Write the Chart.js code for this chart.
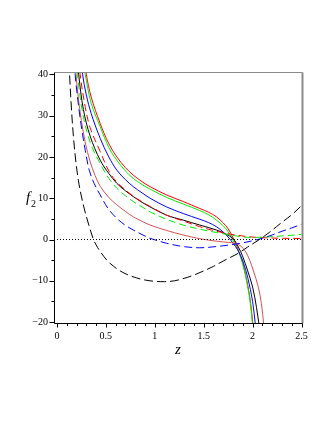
<!DOCTYPE html>
<html><head><meta charset="utf-8">
<script src="https://cdn.jsdelivr.net/npm/chart.js@4.4.0/dist/chart.umd.min.js"></script>
<style>html,body{margin:0;padding:0;background:#fff;}canvas{display:block;}</style>
</head><body>
<canvas id="c" width="332" height="430"></canvas>
<script>
// ---- data (z, f2) ----
const xTickValues = [0, 0.5, 1, 1.5, 2, 2.5];
const yTickValues = [-20, -10, 0, 10, 20, 30, 40];

const redSolid = [[0.27,45],[0.30,40],[0.35,34.5],[0.442,28.1],[0.53,23.2],[0.612,20.0],[0.70,17.4],[0.78,15.6],[0.87,14.0],[0.952,12.8],[1.12,10.8],[1.29,9.2],[1.46,7.5],[1.55,6.6],[1.63,5.5],[1.70,4.0],[1.75,2.6],[1.80,0.4],[1.85,-2.3],[1.90,-5.8],[1.95,-11.0],[1.98,-15.5],[2.005,-21]];
const greenSolid = [[0.265,45],[0.29,40],[0.35,33],[0.442,27.3],[0.53,22.3],[0.612,19.2],[0.70,16.6],[0.78,14.8],[0.87,13.3],[0.952,12.2],[1.12,10.2],[1.29,8.6],[1.46,7.0],[1.55,6.0],[1.63,4.7],[1.70,3.3],[1.75,1.9],[1.80,-0.3],[1.85,-2.6],[1.90,-6.0],[1.95,-11.5],[1.98,-16],[2.0,-21]];
const blueSolid = [[0.24,45],[0.262,40],[0.30,35],[0.35,30.5],[0.442,24.5],[0.53,20.0],[0.612,16.8],[0.70,14.5],[0.78,12.8],[0.87,11.3],[0.952,10.0],[1.12,7.9],[1.29,6.3],[1.46,4.9],[1.55,4.1],[1.63,3.1],[1.70,1.8],[1.75,0.6],[1.80,-0.9],[1.85,-2.6],[1.90,-5.2],[1.95,-9.2],[2.0,-15],[2.03,-21]];
const blackSolid = [[0.20,46],[0.222,40],[0.27,31.5],[0.34,25],[0.442,19.2],[0.53,16.0],[0.612,13.6],[0.70,11.8],[0.78,10.4],[0.87,9.0],[0.952,7.9],[1.12,5.9],[1.29,4.7],[1.46,3.5],[1.63,2.3],[1.72,1.4],[1.80,0.2],[1.85,-1.6],[1.90,-4.2],[1.95,-7.6],[2.0,-11.5],[2.04,-16.5],[2.068,-21]];
const paleRedSolid = [[0.18,45],[0.195,40],[0.22,34],[0.25,28.8],[0.29,23.4],[0.34,18.8],[0.39,15.5],[0.442,12.9],[0.53,10.2],[0.612,8.4],[0.70,6.8],[0.78,5.5],[0.87,4.4],[0.952,3.5],[1.12,2.2],[1.29,1.1],[1.46,0.2],[1.63,-0.4],[1.75,-0.7],[1.82,-0.9],[1.88,-1.6],[1.93,-3.0],[1.97,-5.0],[2.006,-7.4],[2.057,-11.4],[2.09,-15.5],[2.115,-21]];
const redDashed = [[0.215,46],[0.237,40],[0.29,32],[0.34,27],[0.442,21.3],[0.53,16.6],[0.612,13.9],[0.70,12.0],[0.78,10.5],[0.87,9.1],[0.952,8.0],[1.12,5.9],[1.29,4.5],[1.46,3.1],[1.63,2.0],[1.80,1.2],[1.95,0.7],[2.1,0.45],[2.3,0.3],[2.5,0.25]];
const greenDashed = [[0.19,46],[0.21,40],[0.26,31],[0.34,23.5],[0.442,18.4],[0.53,14.8],[0.612,12.4],[0.70,10.6],[0.78,9.2],[0.87,7.9],[0.952,6.7],[1.12,4.9],[1.29,3.5],[1.46,2.5],[1.63,1.7],[1.80,1.0],[1.90,0.6],[2.0,0.5],[2.2,0.7],[2.35,0.95],[2.5,1.25]];
const blueDashed = [[0.17,46],[0.186,40],[0.22,32.5],[0.255,26.5],[0.29,21.5],[0.33,16.8],[0.38,13.6],[0.442,10.8],[0.52,7.6],[0.6,5.4],[0.69,3.6],[0.78,2.3],[0.87,1.2],[0.952,0.3],[1.12,-0.9],[1.29,-1.7],[1.46,-2.0],[1.63,-1.7],[1.8,-1.2],[1.9,-0.8],[2.0,-0.3],[2.1,0.3],[2.2,1.1],[2.3,2.0],[2.4,2.8],[2.5,3.7]];
const blackDashed = [[0.118,46],[0.129,40],[0.15,31],[0.17,24.5],[0.195,18.5],[0.22,14.2],[0.245,11.0],[0.28,7.4],[0.32,4.0],[0.37,0.2],[0.40,-1.3],[0.44,-2.8],[0.51,-5.0],[0.58,-6.5],[0.646,-7.6],[0.73,-8.6],[0.816,-9.3],[0.9,-9.8],[0.99,-10.1],[1.1,-10.2],[1.2,-10.0],[1.3,-9.4],[1.4,-8.6],[1.5,-7.6],[1.6,-6.5],[1.7,-5.2],[1.8,-4.0],[1.87,-3.1],[1.95,-1.8],[2.07,0],[2.17,1.7],[2.28,3.8],[2.4,6.0],[2.5,8.2]];
const zeroLine = [[-0.03,0],[2.515,0]];

const X_MIN = -0.03, X_MAX = 2.515, Y_MIN = -20.45, Y_MAX = 40.55;

const pts = a => a.map(p => ({x:p[0], y:p[1]}));
const mk = (data, color, dash) => ({
  data: pts(data), borderColor: color, borderWidth: 1, borderDash: dash,
  pointRadius: 0, fill: false, tension: 0.35
});

const datasets = [
  mk(zeroLine, '#000', [1,2]),
  mk(blackDashed, '#000000', [9,4]),
  mk(blueDashed, '#0000ff', [8,4]),
  mk(greenDashed, '#00ee00', [7,4]),
  mk(redDashed, '#ff0000', [7,4]),
  mk(paleRedSolid, '#d85050', []),
  mk(blackSolid, '#000000', []),
  mk(blueSolid, '#0000ff', []),
  mk(greenSolid, '#00ee00', []),
  mk(redSolid, '#ff0000', []),
];
datasets[0].tension = 0;

const axesPlugin = {
  id: 'mapleAxes',
  afterDraw(chart) {
    const ctx = chart.ctx, a = chart.chartArea;
    const xs = chart.scales.x, ys = chart.scales.y;
    const L = Math.round(a.left) + 0.5, R = Math.round(a.right) - 0.5;
    const T = Math.round(a.top) + 0.5, B = Math.round(a.bottom) - 0.5;
    ctx.save();
    ctx.strokeStyle = '#8a8a8a'; ctx.lineWidth = 1;
    ctx.beginPath(); ctx.moveTo(L, T); ctx.lineTo(R, T); ctx.stroke();
    ctx.lineWidth = 2;
    ctx.beginPath(); ctx.moveTo(R, T); ctx.lineTo(R, B); ctx.stroke();
    ctx.strokeStyle = '#000'; ctx.lineWidth = 1;
    ctx.beginPath(); ctx.moveTo(L, T); ctx.lineTo(L, B); ctx.lineTo(R, B); ctx.stroke();
    ctx.beginPath();
    for (let i = 0; i <= 25; i++) {
      const v = i / 10;
      const px = Math.round(xs.getPixelForValue(v)) + 0.5;
      const len = (i % 5 === 0) ? 4 : 2.5;
      ctx.moveTo(px, B); ctx.lineTo(px, B + len);
    }
    for (let v = -20; v <= 40; v += 5) {
      const py = Math.round(ys.getPixelForValue(v)) + 0.5;
      const len = (v % 10 === 0) ? 5 : 3;
      ctx.moveTo(L, py); ctx.lineTo(L - len, py);
    }
    ctx.stroke();
    ctx.fillStyle = '#000';
    ctx.textBaseline = 'alphabetic';
    ctx.font = 'italic 15px "Liberation Serif"';
    ctx.textAlign = 'left';
    ctx.fillText('f', 26, 202);
    ctx.font = '10px "Liberation Serif"';
    ctx.fillText('2', 31, 207);
    ctx.font = 'italic 15px "Liberation Serif"';
    ctx.textAlign = 'center';
    ctx.fillText('z', 178, 354);
    ctx.restore();
  }
};

new Chart(document.getElementById('c'), {
  type: 'line',
  data: { datasets },
  options: {
    responsive: false, animation: false, devicePixelRatio: 1,
    layout: { padding: { top: 72, right: 29, left: 0, bottom: 0 } },
    plugins: { legend: { display: false }, tooltip: { enabled: false } },
    elements: { point: { radius: 0 } },
    scales: {
      x: {
        type: 'linear', min: X_MIN, max: X_MAX,
        afterBuildTicks: s => { s.ticks = xTickValues.map(v => ({ value: v })); },
        afterFit: s => { s.height = 106; },
        grid: { display: false, drawTicks: false }, border: { display: false },
        ticks: { padding: 6, color: '#000', autoSkip: false, maxRotation: 0,
          font: { family: 'Liberation Serif', size: 10 },
          callback: v => String(v) }
      },
      y: {
        type: 'linear', min: Y_MIN, max: Y_MAX,
        afterBuildTicks: s => { s.ticks = yTickValues.map(v => ({ value: v })); },
        afterFit: s => { s.width = 54; },
        grid: { display: false, drawTicks: false }, border: { display: false },
        ticks: { padding: 6, color: '#000', autoSkip: false,
          font: { family: 'Liberation Serif', size: 10 },
          callback: v => v < 0 ? '\u2212' + Math.abs(v) : String(v) }
      }
    }
  },
  plugins: [axesPlugin]
});
</script>
</body></html>
